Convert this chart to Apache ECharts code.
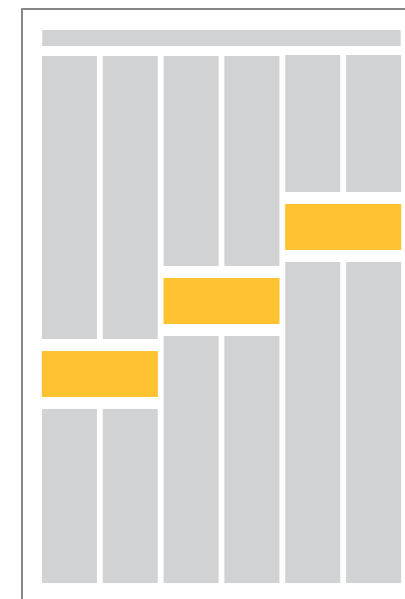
<!DOCTYPE html>
<html><head><meta charset="utf-8">
<script src="https://cdn.jsdelivr.net/npm/echarts@6/dist/echarts.min.js"></script>
<style>html,body{margin:0;padding:0;background:#fff}#c{width:405px;height:599px}</style>
</head><body><div id="c"></div>
<script>
// Data
var columns = ['A1','A2','B1','B2','C1','C2'];
var groups = ['A','B','C'];
var lowerValues = [174, 174, 247, 247, 321, 321];
var highlightValues = [46, 46, 46];
var upperValues = [283, 283, 210, 210, 137, 137];
var totalBar = [16];
var totalCategory = ['Total'];

var GAP = 12;
var GRAY = '#D1D2D4', YELLOW = '#FFC231';
var lowerByGroup = [lowerValues[0], lowerValues[2], lowerValues[4]];
var upperSpacer = lowerValues.map(function(v, i){ return GAP + highlightValues[Math.floor(i/2)] + GAP; });
var highlightSpacer = lowerByGroup.map(function(v){ return v + GAP; });
var colTotals = lowerValues.map(function(v, i){ return v + upperSpacer[i] + upperValues[i]; });
var maxTotal = Math.max.apply(null, colTotals);
var topSpacer = [maxTotal + 9];
var yMax = topSpacer[0] + totalBar[0];

var chart = echarts.init(document.getElementById('c'), null, {renderer: 'canvas'});
var hiddenCat = {type: 'category', gridIndex: 0, show: false, axisLine:{show:false}, axisTick:{show:false}, axisLabel:{show:false}};
chart.setOption({
  animation: false,
  grid: [
    {left: 39, right: 1, top: 30, bottom: 16},
    {left: 22, right: -10, top: 9, bottom: -10}
  ],
  xAxis: [
    Object.assign({}, hiddenCat, {data: columns}),
    Object.assign({}, hiddenCat, {data: groups}),
    Object.assign({}, hiddenCat, {data: totalCategory}),
    {type: 'value', gridIndex: 1, position: 'top', min: 0, max: 1, axisLine: {show: true, onZero: false, lineStyle: {color: '#888', width: 2}}, axisTick: {show: false}, axisLabel: {show: false}, splitLine: {show: false}}
  ],
  yAxis: [
    {type: 'value', gridIndex: 0, min: 0, max: yMax, show: false, splitLine: {show: false}},
    {type: 'value', gridIndex: 1, min: 0, max: 1, position: 'left', axisLine: {show: true, onZero: false, lineStyle: {color: '#888', width: 2}}, axisTick: {show: false}, axisLabel: {show: false}, splitLine: {show: false}}
  ],
  series: [
    {type: 'bar', xAxisIndex: 0, yAxisIndex: 0, stack: 'cols', data: lowerValues, barCategoryGap: '9.5%', itemStyle: {color: GRAY}, silent: true},
    {type: 'bar', xAxisIndex: 0, yAxisIndex: 0, stack: 'cols', data: upperSpacer, itemStyle: {color: 'transparent'}, silent: true},
    {type: 'bar', xAxisIndex: 0, yAxisIndex: 0, stack: 'cols', data: upperValues, itemStyle: {color: GRAY}, silent: true},
    {type: 'bar', xAxisIndex: 1, yAxisIndex: 0, stack: 'hl', data: highlightSpacer, barCategoryGap: '4.6%', itemStyle: {color: 'transparent'}, silent: true},
    {type: 'bar', xAxisIndex: 1, yAxisIndex: 0, stack: 'hl', data: highlightValues, itemStyle: {color: YELLOW}, silent: true},
    {type: 'bar', xAxisIndex: 2, yAxisIndex: 0, stack: 'tot', data: topSpacer, barCategoryGap: '1.8%', itemStyle: {color: 'transparent'}, silent: true},
    {type: 'bar', xAxisIndex: 2, yAxisIndex: 0, stack: 'tot', data: totalBar, itemStyle: {color: GRAY}, silent: true},
    {type: 'line', xAxisIndex: 3, yAxisIndex: 1, data: [], silent: true}
  ]
});
</script></body></html>
